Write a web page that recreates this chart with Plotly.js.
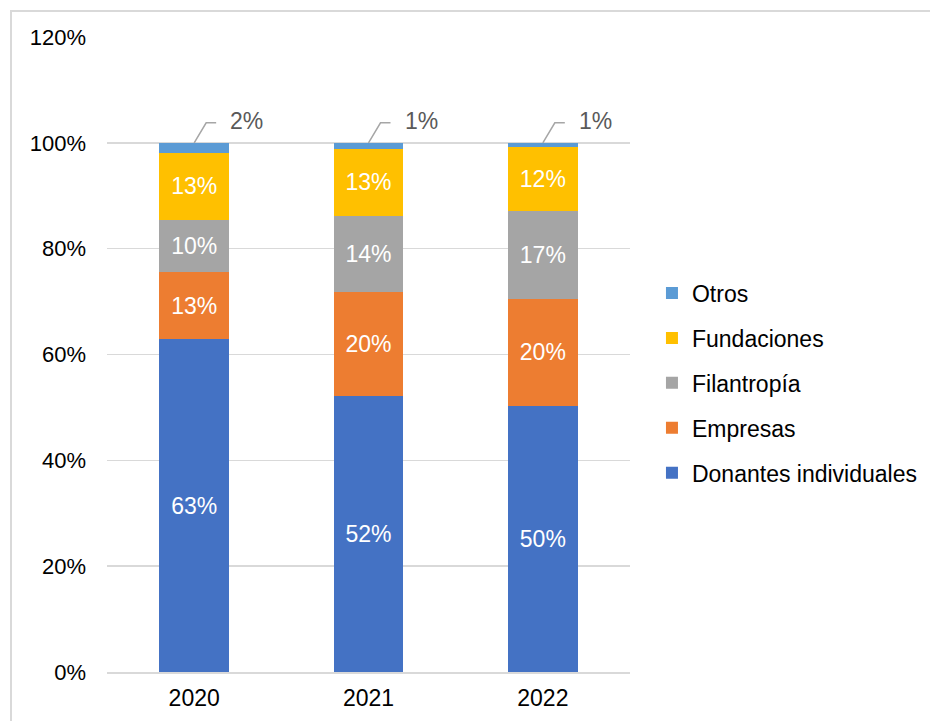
<!DOCTYPE html>
<html>
<head>
<meta charset="utf-8">
<script src="https://cdn.plot.ly/plotly-3.0.1.min.js"></script>
<style>
  html, body { margin: 0; padding: 0; background: #fff; }
  #wrap { position: relative; width: 930px; height: 721px; overflow: hidden; }
  #chart { width: 930px; height: 721px; }
  #frame { position: absolute; left: 10px; top: 10px; width: 940px; height: 740px;
           border-top: 2px solid #d9d9d9; border-left: 2px solid #d9d9d9; pointer-events: none; }
</style>
</head>
<body>
<div id="wrap"><div id="chart"></div><div id="frame"></div></div>
<script>
const years = ['2020', '2021', '2022'];
const donantes = [62.9, 52.2, 50.3];
const empresas = [12.7, 19.6, 20.2];
const filantropia = [9.8, 14.4, 16.6];
const fundaciones = [12.7, 12.7, 12.1];
const otros = [1.9, 1.1, 0.8];

const seriesNames = ['Donantes individuales', 'Empresas', 'Filantropía', 'Fundaciones', 'Otros'];
const seriesValues = [donantes, empresas, filantropia, fundaciones, otros];
const seriesColors = ['#4472C4', '#ED7D31', '#A5A5A5', '#FFC000', '#5B9BD5'];

const FONT = '"Liberation Sans", Arial, sans-serif';

const traces = seriesNames.map((name, i) => ({
  type: 'bar',
  name: name,
  x: years,
  y: seriesValues[i],
  legendgroup: 'g' + i,
  legendrank: 5 - i,
  marker: { color: seriesColors[i], line: { width: 0 } },
  text: seriesValues[i].map(v => i === 4 ? '' : Math.round(v) + '%'),
  textposition: i === 4 ? 'none' : 'inside',
  insidetextanchor: 'middle',
  textangle: 0,
  textfont: { family: FONT, size: 23, color: '#ffffff' },
  hoverinfo: 'x+y+name'
}));

const totals = years.map((_, k) => seriesValues.reduce((s, arr) => s + arr[k], 0));

const annotations = years.map((yr, k) => ({
  x: k, y: totals[k], xref: 'x', yref: 'y',
  text: Math.round(otros[k]) + '%',
  showarrow: false,
  xanchor: 'left', yanchor: 'middle',
  xshift: 34, yshift: 22,
  font: { family: FONT, size: 23, color: '#595959' }
}));

const shapes = years.map((yr, k) => ({
  type: 'path',
  xref: 'x', yref: 'y',
  xsizemode: 'pixel', ysizemode: 'pixel',
  xanchor: k, yanchor: totals[k],
  path: 'M 0 0 L 12 20 L 22 20',
  line: { color: '#a6a6a6', width: 1.5 }
}));

const layout = {
  width: 930, height: 721,
  margin: { l: 107, r: 300, t: 37, b: 49, autoexpand: false },
  paper_bgcolor: '#ffffff', plot_bgcolor: '#ffffff',
  barmode: 'stack',
  bargap: 0.6,
  font: { family: FONT, size: 23, color: '#000000' },
  xaxis: {
    type: 'category',
    range: [-0.5, 2.5],
    showgrid: false, zeroline: false,
    showline: true, linecolor: '#d9d9d9', linewidth: 1.5,
    ticks: '', ticklabelstandoff: 5,
    tickfont: { family: FONT, size: 23, color: '#000000' }
  },
  yaxis: {
    range: [0, 120], dtick: 20, ticksuffix: '%',
    showgrid: true, gridcolor: '#d9d9d9', gridwidth: 1.5,
    zeroline: false, showline: false, ticks: '',
    ticklabelstandoff: 20,
    tickfont: { family: FONT, size: 22, color: '#000000' }
  },
  legend: {
    x: 1.042, xanchor: 'left', y: 0.455, yanchor: 'middle',
    traceorder: 'grouped', tracegroupgap: 12,
    itemwidth: 30,
    font: { family: FONT, size: 23, color: '#000000' }
  },
  annotations: annotations,
  shapes: shapes,
  showlegend: true
};

Plotly.newPlot('chart', traces, layout, { displayModeBar: false, staticPlot: true });
</script>
</body>
</html>
